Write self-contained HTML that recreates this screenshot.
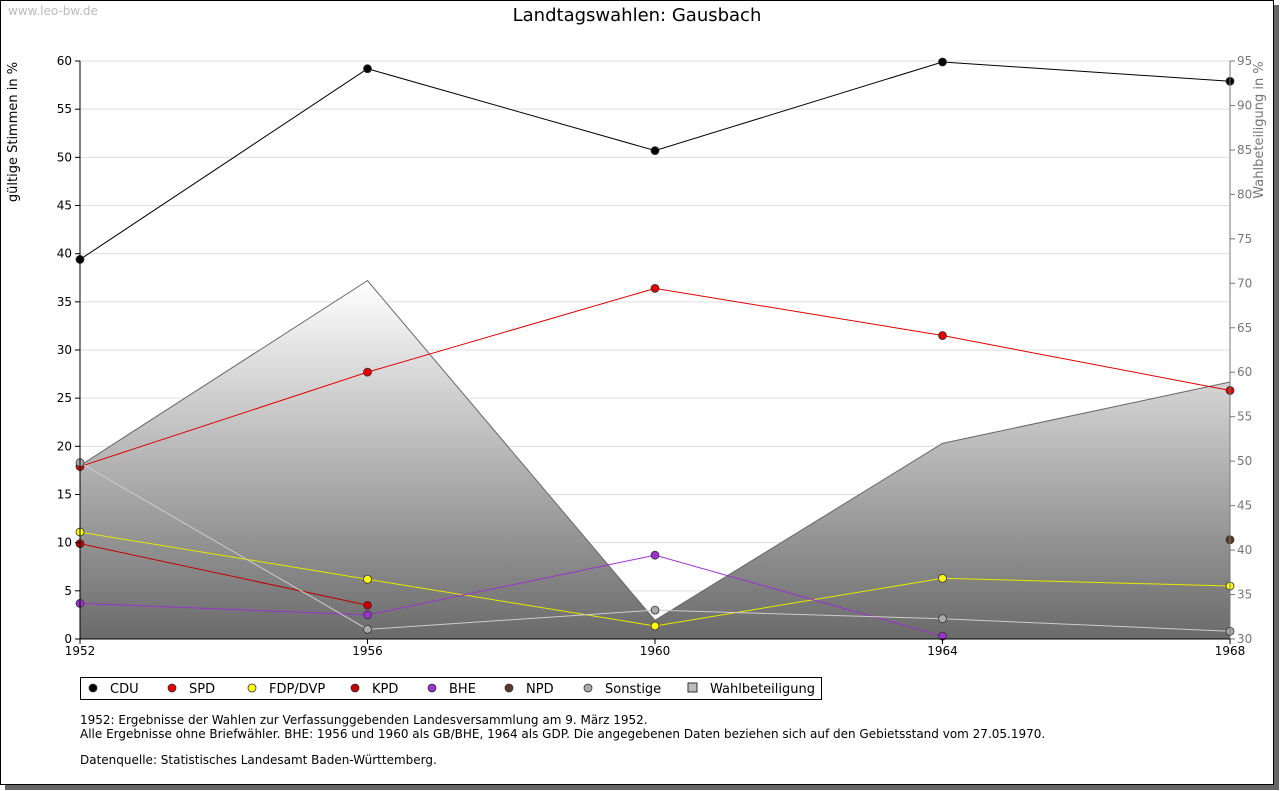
<!DOCTYPE html>
<html><head><meta charset="utf-8"><style>
body{margin:0;background:#fff;font-family:"DejaVu Sans","Liberation Sans",sans-serif;}
svg{display:block}
</style></head><body>
<svg id="c" width="1280" height="791" xmlns="http://www.w3.org/2000/svg" font-family="DejaVu Sans, Liberation Sans, sans-serif">
<defs><linearGradient id="g" gradientUnits="userSpaceOnUse" x1="0" y1="281" x2="0" y2="639"><stop offset="0" stop-color="#ffffff"/><stop offset="1" stop-color="#6a6a6a"/></linearGradient></defs>
<rect x="5" y="5" width="1274" height="785" fill="#666"/>
<rect x="0.5" y="0.5" width="1273" height="784" fill="#fff" stroke="#000"/>
<text x="8" y="15" font-size="12" fill="#bbb">www.leo-bw.de</text>
<text x="637" y="21" font-size="18" text-anchor="middle">Landtagswahlen: Gausbach</text>
<text transform="translate(17,132) rotate(-90)" font-size="13" text-anchor="middle">gültige Stimmen in %</text>
<text transform="translate(1263,130) rotate(-90)" font-size="13" fill="#777" text-anchor="middle">Wahlbeteiligung in %</text>
<g id="grid"></g><g id="area"></g><g id="lines"></g><g id="axes"></g>
<g><rect x="80.5" y="677.5" width="741" height="22" fill="#fff" stroke="#000"/><g id="leg"></g></g>
<text x="80" y="724" font-size="12">1952: Ergebnisse der Wahlen zur Verfassunggebenden Landesversammlung am 9. März 1952.</text>
<text x="80" y="738" font-size="12">Alle Ergebnisse ohne Briefwähler. BHE: 1956 und 1960 als GB/BHE, 1964 als GDP. Die angegebenen Daten beziehen sich auf den Gebietsstand vom 27.05.1970.</text>
<text x="80" y="764" font-size="12">Datenquelle: Statistisches Landesamt Baden-Württemberg.</text>
</svg>
<script>
const years=[1952,1956,1960,1964,1968];
const leftTicks=[0,5,10,15,20,25,30,35,40,45,50,55,60];
const rightTicks=[30,35,40,45,50,55,60,65,70,75,80,85,90,95];
const cdu=[39.4,59.2,50.7,59.9,57.9];
const spd=[17.9,27.7,36.4,31.5,25.8];
const fdp=[11.1,6.2,1.35,6.3,5.5];
const kpd=[9.9,3.5,null,null,null];
const bhe=[3.7,2.5,8.7,0.3,null];
const npd=[null,null,null,null,10.3];
const sonstige=[18.3,1.0,3.0,2.1,0.8];
const turnout=[49.5,70.3,32.1,52.0,58.9];
const NS="http://www.w3.org/2000/svg";
const X=y=>80+(y-1952)*1150/16, Y=v=>639-v*578/60, Y2=v=>639-(v-30)*578/65;
function mk(p,t,a){const e=document.createElementNS(NS,t);for(const k in a)e.setAttribute(k,a[k]);document.getElementById(p).appendChild(e);return e;}
leftTicks.forEach(t=>{if(t>0){const l=mk('grid','line',{x1:80,x2:1230,y1:Y(t),y2:Y(t),stroke:'#ddd'});}
 mk('axes','line',{x1:75,x2:80,y1:Y(t),y2:Y(t),stroke:'#000'});
 const s=mk('axes','text',{x:72,y:Y(t)+4,'font-size':12,'text-anchor':'end'});s.textContent=t;
 });
rightTicks.forEach(t=>{mk('axes','line',{x1:1230,x2:1235,y1:Y2(t),y2:Y2(t),stroke:'#777'});
 const s=mk('axes','text',{x:1237,y:Y2(t)+4,'font-size':12,fill:'#777'});s.textContent=t;
 });
let d='M'+X(years[0])+','+639;years.forEach((y,i)=>d+=' L'+X(y)+','+Y2(turnout[i]));d+=' L'+X(1968)+',639 Z';
const ar=mk('area','path',{d:d,fill:'url(#g)',stroke:'#666'});

mk('axes','line',{x1:80,x2:80,y1:61,y2:639,stroke:'#000'});
mk('axes','line',{x1:1230,x2:1230,y1:61,y2:639,stroke:'#777'});
mk('axes','line',{x1:80,x2:1230,y1:639,y2:639,stroke:'#000'});
years.forEach(y=>{mk('axes','line',{x1:X(y),x2:X(y),y1:639,y2:644,stroke:'#000'});
 const s=mk('axes','text',{x:X(y),y:655,'font-size':12,'text-anchor':'middle'});s.textContent=y;
 });
const series=[['CDU',cdu,'#000'],['SPD',spd,'#e00000'],['FDP/DVP',fdp,'#ffff00'],['KPD',kpd,'#c00000'],['BHE',bhe,'#9933cc'],['NPD',npd,'#5c3a21'],['Sonstige',sonstige,'#aaa']];
series.forEach(([n,v,c])=>{let p='';v.forEach((val,i)=>{if(val!=null)p+=(p?' L':'M')+X(years[i])+','+Y(val);});
 const lc=c=='#ffff00'?'#e8e800':(c=='#aaa'?'#ccc':c);
 const l=mk('lines','path',{d:p,fill:'none',stroke:lc});
 
 v.forEach((val,i)=>{if(val==null)return;const x=X(years[i]),y=Y(val);
  const m=mk('lines','circle',{cx:x,cy:y,r:4,fill:c,stroke:'#333','stroke-width':0.8});
  });});
const legX=[93,172,252,355,432,509,588];
series.forEach(([n,v,c],i)=>{const x=legX[i],y=688;
 mk('leg','circle',{cx:x,cy:y,r:4,fill:c,stroke:'#333','stroke-width':0.8});
 const t=mk('leg','text',{x:x+17,y:y+5,'font-size':13});t.textContent=n;
 });
mk('leg','rect',{x:688,y:683,width:9,height:9,fill:'#bbb',stroke:'#333'});
const tw=mk('leg','text',{x:710,y:693,'font-size':13});tw.textContent='Wahlbeteiligung';

</script>
</body></html>
